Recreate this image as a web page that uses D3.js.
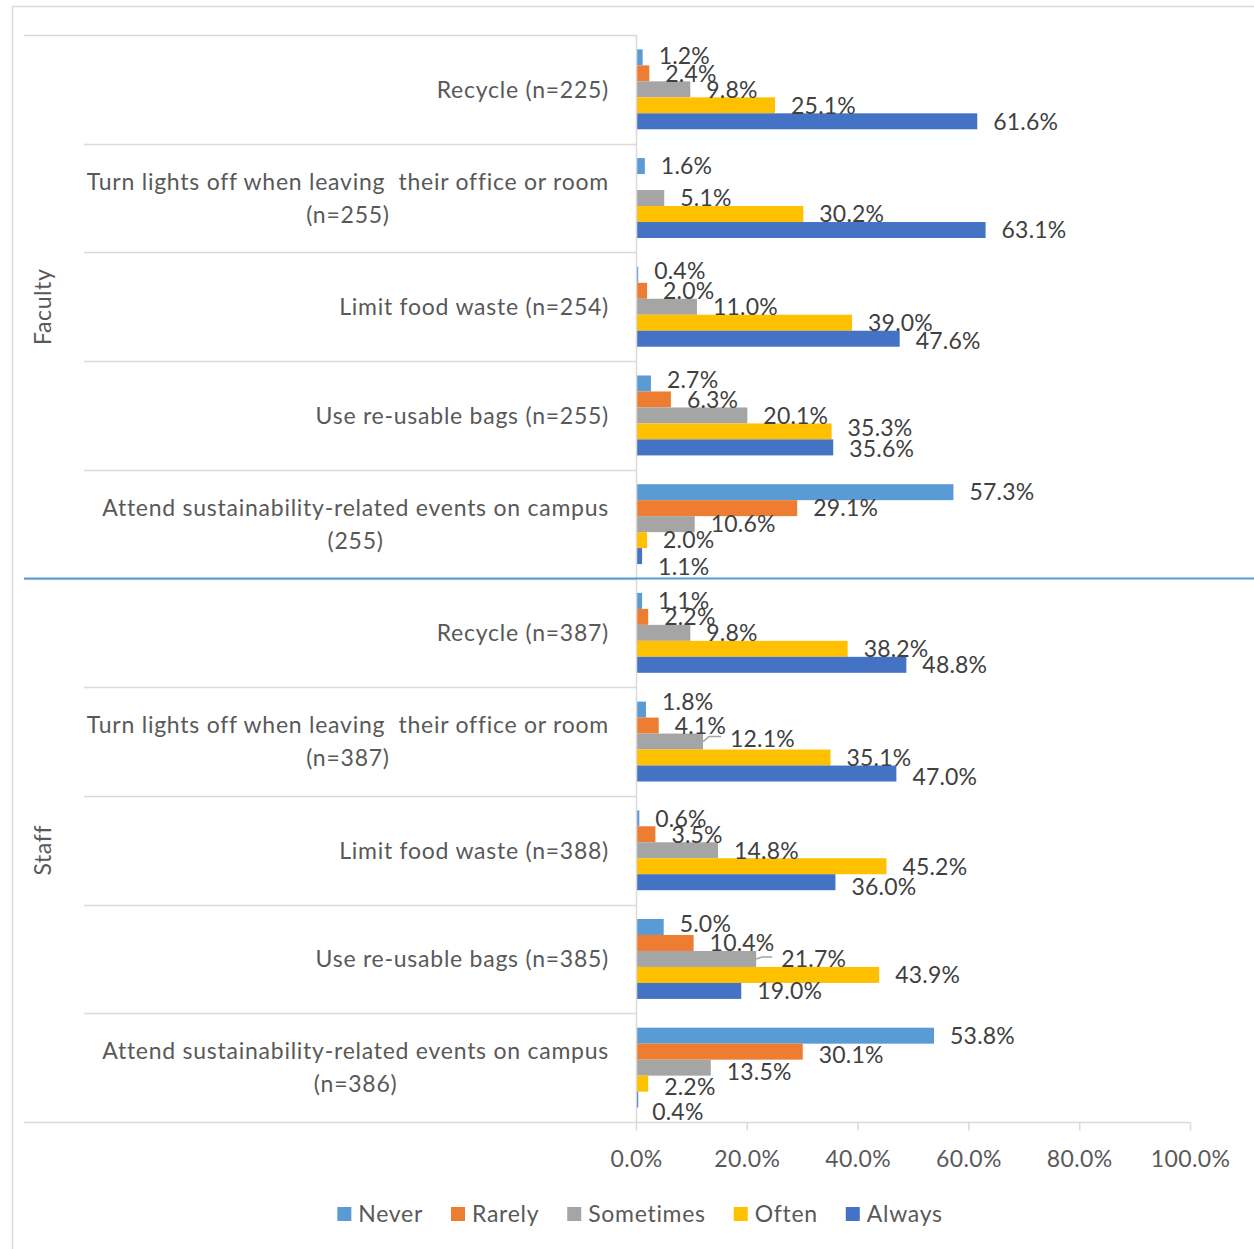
<!DOCTYPE html>
<html>
<head>
<meta charset="utf-8">
<script src="https://cdn.jsdelivr.net/npm/d3@7"></script>
<style>
  html, body { margin: 0; padding: 0; background: #ffffff; }
  svg { display: block; }
  text { font-family: Lato, "Open Sans", sans-serif; white-space: pre; }
</style>
</head>
<body>
<svg id="chart" width="1254" height="1249"></svg>
<script>
// ---- data ----
const groups = ["Faculty", "Staff"];
const categories = [
  "Recycle (n=225)",
  "Turn lights off when leaving  their office or room\n(n=255)",
  "Limit food waste (n=254)",
  "Use re-usable bags (n=255)",
  "Attend sustainability-related events on campus\n(255)",
  "Recycle (n=387)",
  "Turn lights off when leaving  their office or room\n(n=387)",
  "Limit food waste (n=388)",
  "Use re-usable bags (n=385)",
  "Attend sustainability-related events on campus\n(n=386)"
];
const categoryGroup = [0, 0, 0, 0, 0, 1, 1, 1, 1, 1];
const seriesNames = ["Never", "Rarely", "Sometimes", "Often", "Always"];
const never     = [1.2, 1.6, 0.4, 2.7, 57.3, 1.1, 1.8, 0.6, 5.0, 53.8];
const rarely    = [2.4, null, 2.0, 6.3, 29.1, 2.2, 4.1, 3.5, 10.4, 30.1];
const sometimes = [9.8, 5.1, 11.0, 20.1, 10.6, 9.8, 12.1, 14.8, 21.7, 13.5];
const often     = [25.1, 30.2, 39.0, 35.3, 2.0, 38.2, 35.1, 45.2, 43.9, 2.2];
const always    = [61.6, 63.1, 47.6, 35.6, 1.1, 48.8, 47.0, 36.0, 19.0, 0.4];
const xTicks = [0, 20, 40, 60, 80, 100];

const seriesValues = [never, rarely, sometimes, often, always];
const seriesColors = ["#5B9BD5", "#ED7D31", "#A5A5A5", "#FFC000", "#4472C4"];

// label nudges for crowded spots: key "category,series" -> [dx, dy, leader]
const labelNudge = {
  "0,0": [0, -2], "2,0": [0, -4], "2,4": [0, 2], "3,0": [0, -4], "3,3": [0, -4], "3,4": [0, 1],
  "4,4": [0, 11],
  "6,0": [0, -8], "6,2": [11, -3, true], "6,4": [0, 3],
  "7,4": [0, 4], "8,0": [0, -3], "8,2": [9, 0, true],
  "9,1": [0, 3], "9,2": [0, 4], "9,3": [0, 3], "9,4": [-2, 12]
};

// ---- layout ----
const svg = d3.select("#chart");
const FONT = 23;
const axisColor = "#D9D9D9";
const textGray = "#595959";
const labelDark = "#404040";

const x = d3.scaleLinear().domain([0, 100]).range([636, 1190]);
const y0 = d3.scaleBand().domain(d3.range(categories.length)).range([35, 1122]);
const y1 = d3.scaleBand().domain(seriesNames).range([0, y0.bandwidth()]).paddingOuter(0.9);

// chart frame
svg.append("rect")
  .attr("x", 12.5).attr("y", 6.5).attr("width", 1400).attr("height", 1400)
  .attr("fill", "none").attr("stroke", axisColor).attr("stroke-width", 1.5);

// category separators (multi-level axis)
const sep = svg.append("g").attr("stroke", axisColor).attr("stroke-width", 1.5);
categories.forEach((c, i) => {
  const yy = Math.round(y0(i)) + 0.5;
  const x0 = (i === 0 || categoryGroup[i] !== categoryGroup[i - 1]) ? 24 : 84;
  sep.append("line").attr("x1", x0).attr("x2", x(0)).attr("y1", yy).attr("y2", yy);
});

// value axis
const xAxis = d3.axisBottom(x)
  .tickValues(xTicks)
  .tickSize(8)
  .tickFormat(d => d.toFixed(1) + "%");
const gx = svg.append("g").attr("transform", `translate(0,${Math.round(y0.range()[1]) + 0.5})`).call(xAxis);
gx.select(".domain").remove();
gx.selectAll(".tick line").attr("stroke", axisColor).attr("stroke-width", 1.5);
gx.selectAll(".tick text")
  .attr("y", 36).attr("dy", (0.36 * FONT) + "px")
  .attr("fill", textGray).style("font-size", FONT + "px")
  .style("letter-spacing", "0.4px")
  .style("font-family", "Lato, 'Open Sans', sans-serif");
svg.append("line")
  .attr("x1", 24).attr("x2", x(100))
  .attr("y1", Math.round(y0.range()[1]) + 0.5).attr("y2", Math.round(y0.range()[1]) + 0.5)
  .attr("stroke", axisColor).attr("stroke-width", 1.5);

// bars
const bars = svg.append("g");
categories.forEach((c, i) => {
  seriesNames.forEach((s, k) => {
    const v = seriesValues[k][i];
    if (v == null) return;
    bars.append("rect")
      .attr("x", x(0))
      .attr("y", y0(i) + y1(s))
      .attr("width", x(v) - x(0))
      .attr("height", y1.bandwidth())
      .attr("fill", seriesColors[k]);
  });
});

// category axis line
svg.append("line")
  .attr("x1", x(0) + 0.5).attr("x2", x(0) + 0.5)
  .attr("y1", y0.range()[0]).attr("y2", y0.range()[1])
  .attr("stroke", axisColor).attr("stroke-width", 1.5);

// data labels
const labels = svg.append("g").attr("fill", labelDark).style("font-size", FONT + "px");
categories.forEach((c, i) => {
  seriesNames.forEach((s, k) => {
    const v = seriesValues[k][i];
    if (v == null) return;
    const n = labelNudge[i + "," + k] || [0, 0];
    const bx = x(v);
    const by = y0(i) + y1(s) + y1.bandwidth() / 2;
    const lx = bx + 16 + n[0];
    const ly = by + n[1];
    if (n[2]) {
      svg.append("polyline")
        .attr("points", [[bx, by], [bx + 6, ly - 2], [lx - 9, ly - 2]].map(p => p.join(",")).join(" "))
        .attr("fill", "none").attr("stroke", "#A5A5A5").attr("stroke-width", 1.5);
    }
    labels.append("text")
      .attr("x", lx).attr("y", ly).attr("dy", (0.36 * FONT) + "px")
      .style("letter-spacing", "0.2px")
      .text(v.toFixed(1) + "%");
  });
});

// category labels
const catG = svg.append("g").attr("fill", textGray).style("font-size", FONT + "px")
  .style("letter-spacing", "0.75px");
categories.forEach((c, i) => {
  const lines = c.split("\n");
  const cy = y0(i) + y0.bandwidth() / 2;
  const lineH = 33;
  const t = catG.append("text");
  const tspans = lines.map((ln, j) => t.append("tspan")
    .attr("y", cy + (j - (lines.length - 1) / 2) * lineH)
    .attr("dy", (0.36 * FONT) + "px")
    .text(ln));
  // block right-aligned at the axis, lines centred within the block
  const widths = tspans.map(ts => ts.node().getComputedTextLength());
  const w = d3.max(widths);
  const right = x(0) - 27;
  tspans.forEach(ts => ts.attr("x", right - w / 2).attr("text-anchor", "middle"));
});

// group labels
groups.forEach((g, gi) => {
  const idx = d3.range(categories.length).filter(i => categoryGroup[i] === gi);
  const top = y0(idx[0]);
  const bot = y0(idx[idx.length - 1]) + y0.bandwidth();
  svg.append("text")
    .attr("transform", `translate(43,${(top + bot) / 2}) rotate(-90)`)
    .attr("text-anchor", "middle").attr("dy", (0.36 * FONT) + "px")
    .attr("fill", textGray).style("font-size", FONT + "px")
    .style("letter-spacing", "0.6px")
    .text(g);
});

// separator between the two groups
const midY = y0(categoryGroup.indexOf(1));
svg.append("line")
  .attr("x1", 24).attr("x2", 1254).attr("y1", midY).attr("y2", midY)
  .attr("stroke", "#5B9BD5").attr("stroke-width", 2);

// legend
const legend = svg.append("g");
const legendY = 1214;
const sw = 14, gapText = 7, gapItem = 28;
const items = seriesNames.map((s, k) => {
  const g = legend.append("g");
  g.append("rect").attr("y", legendY - sw / 2).attr("width", sw).attr("height", sw).attr("fill", seriesColors[k]);
  const t = g.append("text").attr("x", sw + gapText).attr("y", legendY).attr("dy", (0.36 * FONT) + "px")
    .attr("fill", textGray).style("font-size", FONT + "px").style("letter-spacing", "0.7px").text(s);
  return { g, w: sw + gapText + t.node().getComputedTextLength() };
});
const totalW = d3.sum(items, d => d.w) + gapItem * (items.length - 1);
let cx = 640 - totalW / 2;
items.forEach(it => { it.g.attr("transform", `translate(${cx},0)`); cx += it.w + gapItem; });
</script>
</body>
</html>
